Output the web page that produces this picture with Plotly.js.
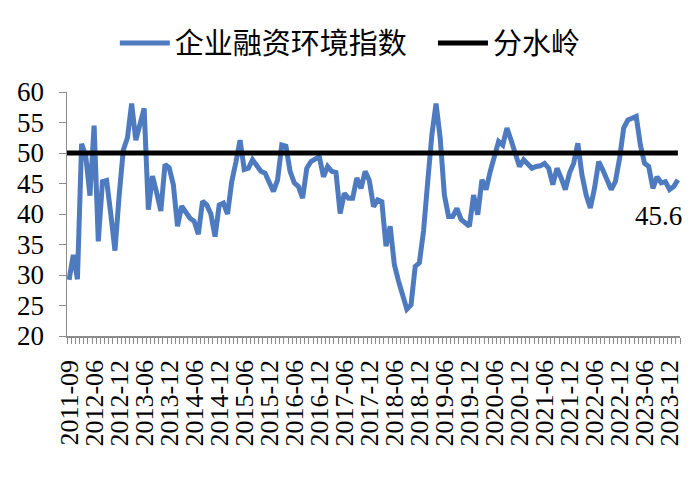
<!DOCTYPE html>
<html><head><meta charset="utf-8">
<script src="https://cdn.plot.ly/plotly-3.0.1.min.js"></script>
<style>html,body{margin:0;padding:0;background:#fff}#chart{width:700px;height:477px}</style>
</head><body><div id="chart"></div>
<script>
const seriesName = "企业融资环境指数";
const watershedName = "分水岭";
const tickLabels = ["2011-09","2012-06","2012-12","2013-06","2013-12","2014-06","2014-12","2015-06","2015-12","2016-06","2016-12","2017-06","2017-12","2018-06","2018-12","2019-06","2019-12","2020-06","2020-12","2021-06","2021-12","2022-06","2022-12","2023-06","2023-12"];
const financingIndex = [
29.2,33.3,29.3,51.5,49.5,43.0,54.5,35.5,45.3,45.5,
40.0,34.0,43.0,50.5,52.5,58.1,52.1,54.5,57.3,40.7,
46.2,43.5,40.5,48.1,47.6,44.8,38.0,41.3,40.3,39.3,
38.8,36.7,42.1,41.5,40.0,36.3,41.5,41.8,40.0,45.3,
48.5,52.1,47.3,47.5,48.9,47.8,47.0,46.7,45.3,43.7,
45.6,51.3,51.1,47.0,45.1,44.5,42.6,47.5,48.6,49.0,
49.4,46.1,47.8,47.0,46.8,40.1,43.4,42.6,42.6,45.9,
44.2,47.0,45.5,41.2,42.3,42.0,34.7,38.0,31.7,29.0,
26.8,24.4,25.1,31.4,32.0,37.2,45.3,53.0,58.1,52.4,
43.1,39.6,39.6,40.9,39.1,38.5,38.0,43.1,39.9,45.6,
44.0,47.0,49.7,51.9,51.3,54.1,52.1,50.0,47.8,48.9,
48.2,47.5,47.8,47.9,48.3,47.5,44.8,47.5,45.9,44.0,
46.7,48.3,51.6,46.4,43.1,41.0,44.2,48.6,47.2,45.3,
44.0,45.3,49.1,54.1,55.4,55.7,56.0,51.3,48.3,47.8,
44.2,46.1,45.1,45.3,44.0,44.5,45.6];
const watershed = 50;
const labelEvery = 6;

const idx = financingIndex.map((_, i) => i);
const tickPositions = tickLabels.map((_, k) => k * labelEvery);
const lastI = idx[idx.length - 1];
const lastV = financingIndex[financingIndex.length - 1];

const serif = "Liberation Serif";
const cjk = "Noto Sans CJK SC";

const traces = [
  {x: idx, y: financingIndex, type: "scatter", mode: "lines", name: seriesName,
   line: {color: "#4E7BBF", width: 5}, legend: "legend"},
  {x: [-0.5, lastI], y: [watershed, watershed], type: "scatter", mode: "lines", name: watershedName,
   line: {color: "#000000", width: 5}, legend: "legend2"}
];

const legendBase = {orientation: "h", xanchor: "left", y: 1.2, yanchor: "middle",
  font: {family: cjk, size: 29, color: "#000"}, itemwidth: 50, bgcolor: "rgba(0,0,0,0)"};

const layout = {
  width: 700, height: 477,
  margin: {l: 67, r: 20, t: 92, b: 141, pad: 0},
  paper_bgcolor: "#fff", plot_bgcolor: "#fff",
  showlegend: true,
  legend: Object.assign({}, legendBase, {x: 0.078}),
  legend2: Object.assign({}, legendBase, {x: 0.597}),
  xaxis: {range: [-0.5, lastI + 0.5], tickmode: "array", tickvals: tickPositions, ticktext: tickLabels,
          tickangle: -90, ticks: "", showgrid: false, zeroline: false, showline: true,
          linecolor: "#8c8c8c", linewidth: 1.5, automargin: false, ticklabelstandoff: 12,
          tickfont: {family: serif, size: 26, color: "#000"},
          minor: {tickmode: "linear", tick0: -0.5, dtick: 1, ticks: "outside", ticklen: 6,
                  tickcolor: "#8c8c8c", tickwidth: 1, showgrid: false}},
  yaxis: {range: [20, 60], dtick: 5, tick0: 20, ticks: "outside", ticklen: 7, tickcolor: "#8c8c8c",
          showgrid: false, zeroline: false, showline: true, linecolor: "#8c8c8c", linewidth: 1.5,
          automargin: false, ticklabelstandoff: 9,
          tickfont: {family: serif, size: 27, color: "#000"}},
  annotations: [{x: lastI, y: lastV, xref: "x", yref: "y", text: String(lastV), showarrow: false,
                 xshift: -19, yshift: -36, font: {family: serif, size: 27, color: "#000"}}]
};

Plotly.newPlot("chart", traces, layout, {displayModeBar: false, staticPlot: true});
</script>
</body></html>
